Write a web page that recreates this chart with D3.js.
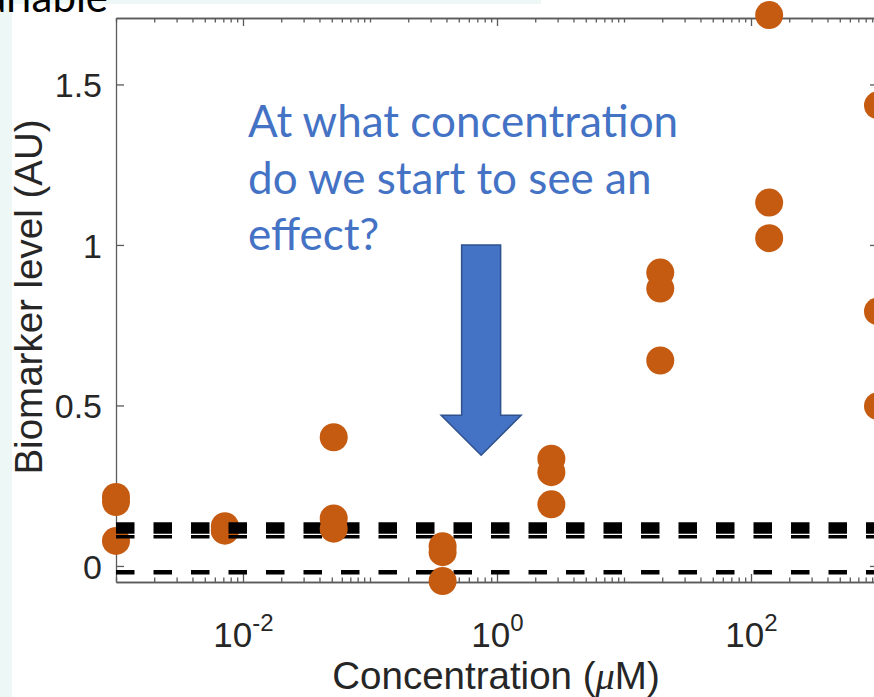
<!DOCTYPE html>
<html>
<head>
<meta charset="utf-8">
<script src="https://cdn.jsdelivr.net/npm/d3@7"></script>
<style>
  html, body { margin: 0; padding: 0; background: #fff; overflow: hidden; }
  svg { display: block; }
</style>
</head>
<body>
<script>
// Dose-response data: three replicate biomarker readings per concentration (µM)
const concentrations = [0.001, 0.0072, 0.0518, 0.373, 2.68, 19.3, 139, 1000];
const replicate1 = [0.215, 0.124, 0.401, 0.061, 0.334, 0.914, 1.716, 1.435];
const replicate2 = [0.199, 0.112, 0.148, 0.043, 0.292, 0.864, 1.132, 0.793];
const replicate3 = [0.078, 0.110, 0.116, -0.047, 0.192, 0.640, 1.021, 0.498];

// Reference levels drawn as dashed horizontal lines
const thresholdLevels = [0.118, 0.091, -0.02];

const xTickValues = [1e-2, 1e0, 1e2];
const yTickValues = [0, 0.5, 1, 1.5];
const yTickLabels = ["0", "0.5", "1", "1.5"];

const questionLines = ["At what concentration", "do we start to see an", "effect?"];
const slideTitle = "Variable";

const W = 874, H = 697;
const plot = { left: 116, right: 878, top: 18, bottom: 582 };

const x = d3.scaleLog().domain([1e-3, 1e3]).range([plot.left, plot.right]);
const y = d3.scaleLinear().domain([-0.05, 1.707]).range([plot.bottom, plot.top]);

const svg = d3.select("body").append("svg")
  .attr("width", W).attr("height", H)
  .attr("viewBox", `0 0 ${W} ${H}`);

// slide background behind the figure
svg.append("rect").attr("width", W).attr("height", H).attr("fill", "#fff");
svg.append("rect").attr("x", 0).attr("y", 0).attr("width", 12).attr("height", H).attr("fill", "#EDF8F6");
svg.append("rect").attr("x", 12).attr("y", 0).attr("width", 529).attr("height", 4).attr("fill", "#EDF8F6");

svg.append("text")
  .attr("x", 108).attr("y", 12)
  .attr("text-anchor", "end")
  .style("font-family", "Lato, 'Open Sans', sans-serif")
  .style("font-size", "42px")
  .attr("fill", "#000")
  .text(slideTitle);

const axisColor = "#5a5a5a";
const labelColor = "#262626";
const axisFont = "'Liberation Sans', Arial, Helvetica, sans-serif";

// minor log ticks (every integer multiple inside each decade, except the labelled ones)
const minorTicks = [];
for (let k = -3; k < 3; k++) {
  for (let m = 1; m <= 9; m++) {
    const v = m * Math.pow(10, k);
    if (!xTickValues.some(t => Math.abs(t - v) / t < 1e-9)) minorTicks.push(v);
  }
}

function styleAxis(g) {
  g.selectAll("path.domain").attr("stroke", axisColor).attr("stroke-width", 1.3);
  g.selectAll(".tick line").attr("stroke", axisColor).attr("stroke-width", 1.3);
}

const axesLayer = svg.append("g");

// bottom axis: minor then major ticks, all pointing inward
axesLayer.append("g").attr("transform", `translate(0,${plot.bottom})`)
  .call(d3.axisBottom(x).tickValues(minorTicks).tickSizeInner(-4.5).tickSizeOuter(0).tickFormat(""))
  .call(styleAxis);
const gxMajor = axesLayer.append("g").attr("transform", `translate(0,${plot.bottom})`)
  .call(d3.axisBottom(x).tickValues(xTickValues).tickSizeInner(-8).tickSizeOuter(0).tickPadding(0))
  .call(styleAxis);

// top axis (box)
axesLayer.append("g").attr("transform", `translate(0,${plot.top})`)
  .call(d3.axisTop(x).tickValues(minorTicks).tickSizeInner(-4.5).tickSizeOuter(0).tickFormat(""))
  .call(styleAxis);
axesLayer.append("g").attr("transform", `translate(0,${plot.top})`)
  .call(d3.axisTop(x).tickValues(xTickValues).tickSizeInner(-8).tickSizeOuter(0).tickFormat(""))
  .call(styleAxis);

// left and right axes
const gy = axesLayer.append("g").attr("transform", `translate(${plot.left},0)`)
  .call(d3.axisLeft(y).tickValues(yTickValues).tickSizeInner(-8).tickSizeOuter(0).tickPadding(14)
    .tickFormat((d, i) => yTickLabels[i]))
  .call(styleAxis);
axesLayer.append("g").attr("transform", `translate(${plot.right},0)`)
  .call(d3.axisRight(y).tickValues(yTickValues).tickSizeInner(-8).tickSizeOuter(0).tickFormat(""))
  .call(styleAxis);

gy.selectAll(".tick text")
  .attr("fill", labelColor)
  .style("font-family", axisFont)
  .style("font-size", "34px")
  .attr("dy", "0.36em");

// decade labels as 10 with a superscript exponent
gxMajor.selectAll(".tick text")
  .attr("fill", labelColor)
  .style("font-family", axisFont)
  .style("font-size", "35px")
  .attr("y", 65).attr("dy", null)
  .text(null)
  .each(function (d) {
    const t = d3.select(this);
    t.append("tspan").text("10");
    t.append("tspan")
      .attr("dy", -16)
      .style("font-size", "24px")
      .text(String(Math.round(Math.log10(d))));
  });

// axis titles
const xTitle = svg.append("text")
  .attr("x", (plot.left + plot.right) / 2 - 1).attr("y", 689)
  .attr("text-anchor", "middle")
  .attr("fill", labelColor)
  .style("font-family", axisFont)
  .style("font-size", "38.5px");
xTitle.append("tspan").text("Concentration (");
xTitle.append("tspan").style("font-family", "'Liberation Serif', 'DejaVu Serif', serif").style("font-style", "italic").text("\u03BC");
xTitle.append("tspan").text("M)");

svg.append("text")
  .attr("transform", `translate(42,${297}) rotate(-90)`)
  .attr("text-anchor", "middle")
  .attr("fill", labelColor)
  .style("font-family", axisFont)
  .style("font-size", "38.5px")
  .text("Biomarker level (AU)");

// data points
const points = [];
concentrations.forEach((c, i) => {
  [replicate1[i], replicate2[i], replicate3[i]].forEach(v => points.push({ c, v, group: i }));
});

const markerColor = "#C55A11";
const drawPoints = (sel, data) => sel.selectAll(null).data(data).join("circle")
  .attr("cx", d => x(d.c)).attr("cy", d => y(d.v))
  .attr("r", 14).attr("fill", markerColor);

// lowest two concentrations are plotted before the reference lines
drawPoints(svg.append("g"), points.filter(d => d.group < 2));

const lineWidths = [11.5, 3.3, 4.5];
svg.append("g").selectAll("line").data(thresholdLevels).join("line")
  .attr("x1", x(1e-3)).attr("x2", x(1e3))
  .attr("y1", d => y(d)).attr("y2", d => y(d))
  .attr("stroke", "#000")
  .attr("stroke-width", (d, i) => lineWidths[i])
  .attr("stroke-dasharray", "18.5,19");

drawPoints(svg.append("g"), points.filter(d => d.group >= 2));

// question annotation with a block arrow
const qColor = "#4472C4";
svg.append("g").selectAll("text").data(questionLines).join("text")
  .attr("x", 248).attr("y", (d, i) => 137 + i * 56.5)
  .attr("fill", qColor)
  .style("font-family", "Lato, 'Open Sans', sans-serif")
  .style("font-size", "44px")
  .text(d => d);

const arrowTip = { c: 0.75, v: 0.345 };
const tx = x(arrowTip.c), ty = y(arrowTip.v);
const shaftTop = y(1.0), headBase = ty - 40;
const shaftHalf = 19.5, headHalf = 40;
svg.append("path")
  .attr("d", `M${tx - shaftHalf},${shaftTop} L${tx + shaftHalf},${shaftTop} L${tx + shaftHalf},${headBase}
    L${tx + headHalf},${headBase} L${tx},${ty} L${tx - headHalf},${headBase} L${tx - shaftHalf},${headBase} Z`)
  .attr("fill", qColor)
  .attr("stroke", "#2F528F")
  .attr("stroke-width", 1.5)
  .attr("stroke-linejoin", "miter");
</script>
</body>
</html>
